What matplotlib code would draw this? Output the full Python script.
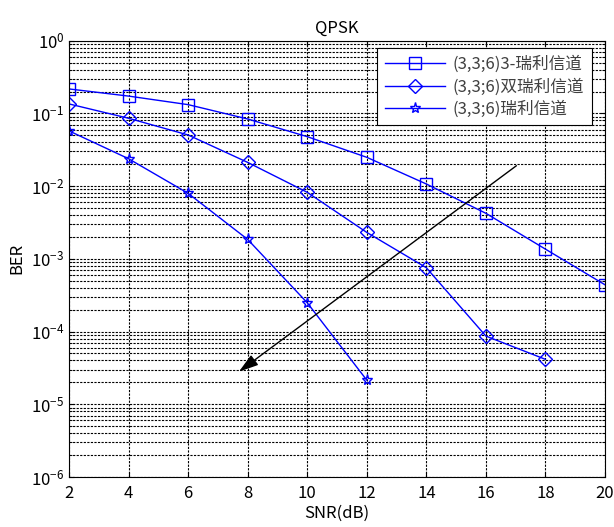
import numpy as np
import matplotlib
matplotlib.use('Agg')
import matplotlib.pyplot as plt
from matplotlib.ticker import LogLocator, NullFormatter, FixedLocator

plt.rcParams['font.family'] = ['Noto Sans CJK SC', 'DejaVu Sans']
plt.rcParams['mathtext.default'] = 'regular'

snr = [2, 4, 6, 8, 10, 12, 14, 16, 18, 20]
ber_3ray = [0.217, 0.173, 0.132, 0.0838, 0.0479, 0.0249, 0.0107, 0.00423, 0.00136, 0.00044]
ber_dual = [0.135, 0.0857, 0.0505, 0.0212, 0.00822, 0.00231, 0.000755, 8.67e-5, 4.15e-5]
ber_ray = [0.0575, 0.0238, 0.00796, 0.00185, 0.000249, 2.15e-5]

labels = ['(3,3;6)3-瑞利信道', '(3,3;6)双瑞利信道', '(3,3;6)瑞利信道']

# arrow endpoints (data coords)
arrow_start = (17.1, 0.0201)
arrow_end = (7.63, 2.66e-5)

fig = plt.figure(figsize=(6.14, 5.27), dpi=100)
ax = fig.add_axes([0.1124, 0.0949, 0.8729, 0.8279])

ax.semilogy(snr, ber_3ray, 'b-s', markersize=8, markerfacecolor='none', linewidth=1, label=labels[0])
ax.semilogy(snr[:len(ber_dual)], ber_dual, 'b-D', markersize=7, markerfacecolor='none', linewidth=1, label=labels[1])
ax.semilogy(snr[:len(ber_ray)], ber_ray, 'b-*', markersize=8, markerfacecolor='none', linewidth=1, label=labels[2])

ax.annotate('', xy=arrow_end, xytext=arrow_start,
            arrowprops=dict(arrowstyle='-|>,head_length=0.8,head_width=0.25',
                            color='black', lw=1, mutation_scale=15))

ax.set_xlim(2, 20)
ax.set_ylim(1e-6, 1)
ax.xaxis.set_major_locator(FixedLocator(snr))
ax.yaxis.set_major_locator(LogLocator(base=10, numticks=10))
ax.yaxis.set_minor_locator(LogLocator(base=10, subs=np.arange(2, 10), numticks=100))
ax.yaxis.set_minor_formatter(NullFormatter())

grid_style = dict(linestyle=(0, (2, 1.2)), color='black', linewidth=0.8)
ax.grid(True, which='major', **grid_style)
ax.grid(True, which='minor', axis='y', **grid_style)
ax.tick_params(which='both', direction='in', top=True, right=True, labelsize=12)
ax.tick_params(which='minor', length=2)
ax.tick_params(axis='x', pad=6)

ax.set_title('QPSK', fontsize=12)
ax.set_xlabel('SNR(dB)', fontsize=12, labelpad=2)
ax.set_ylabel('BER', fontsize=12)

leg = ax.legend(loc='upper right', bbox_to_anchor=(592 / 614, 1 - 48 / 527),
                bbox_transform=fig.transFigure, fontsize=12,
                fancybox=False, framealpha=1, edgecolor='black', borderaxespad=0,
                handlelength=3.6, handletextpad=0.5, labelspacing=0.3, borderpad=0.45)
leg.get_frame().set_linewidth(0.8)
for t in leg.get_texts():
    t.set_color('#404040')

fig.savefig('out.png', dpi=100)
